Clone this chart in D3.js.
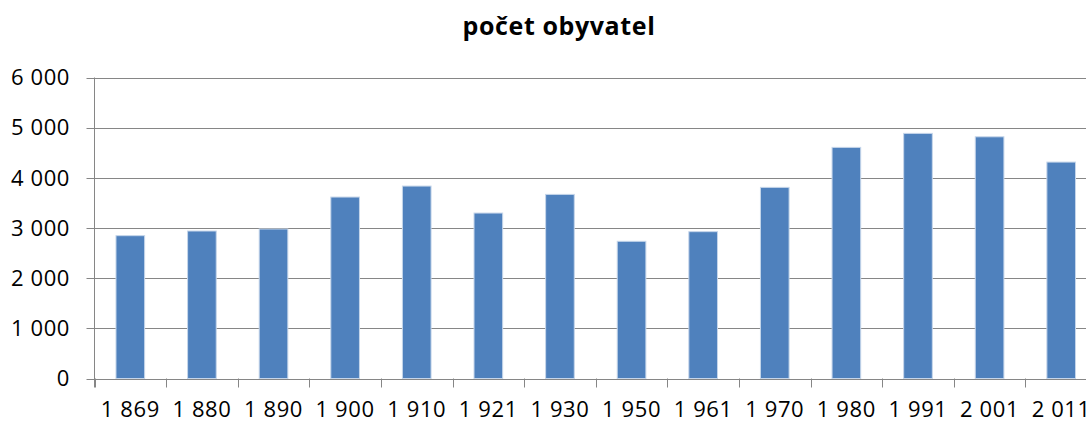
<!DOCTYPE html>
<html lang="cs">
  <head>
    <meta charset="UTF-8" />
    <title>počet obyvatel</title>
    <script src="https://d3js.org/d3.v7.min.js"></script>
    <style>
      body { margin: 0; background: #fff; }
      text { font-family: "Open Sans", sans-serif; fill: #000; }
      .grid line { stroke: #868686; stroke-width: 1px; }
      .axis line, .axis path { stroke: #868686; stroke-width: 1px; }
      .bar { fill: #4f81bd; stroke: #c6d6ea; stroke-width: 1px; }
      .title { font-weight: bold; font-size: 25px; letter-spacing: 0.6px; }
      .tick-label { font-size: 22px; letter-spacing: 0.6px; }
    </style>
  </head>
  <body>
    <svg id="chart" width="1086" height="423"></svg>
    <script>
      // data
      const years = ["1 869", "1 880", "1 890", "1 900", "1 910", "1 921", "1 930",
                     "1 950", "1 961", "1 970", "1 980", "1 991", "2 001", "2 011"];
      const population = [2847, 2940, 2980, 3617, 3836, 3298, 3670,
                          2735, 2927, 3810, 4607, 4886, 4818, 4314];
      const yTicks = [0, 1000, 2000, 3000, 4000, 5000, 6000];
      const yTickLabels = ["0", "1 000", "2 000", "3 000", "4 000", "5 000", "6 000"];

      const svg = d3.select("#chart");
      const width = +svg.attr("width");

      const plot = { left: 94.5, right: 1097, top: 77.5, bottom: 378.5 };

      const x = d3.scaleBand()
        .domain(years)
        .range([plot.left, plot.right])
        .paddingInner(0.6)
        .paddingOuter(0.3);

      const y = d3.scaleLinear()
        .domain([0, 6000])
        .range([plot.bottom, plot.top]);

      // title
      svg.append("text")
        .attr("class", "title")
        .attr("x", 559)
        .attr("y", 35)
        .attr("text-anchor", "middle")
        .text("počet obyvatel");

      // horizontal gridlines (with small tick stub left of the axis)
      svg.append("g")
        .attr("class", "grid")
        .selectAll("line")
        .data(yTicks)
        .join("line")
        .attr("x1", plot.left - 8)
        .attr("x2", width)
        .attr("y1", d => Math.round(y(d)) + 0.5)
        .attr("y2", d => Math.round(y(d)) + 0.5);

      // y axis line
      svg.append("line")
        .attr("x1", plot.left).attr("x2", plot.left)
        .attr("y1", plot.top).attr("y2", plot.bottom + 9)
        .attr("stroke", "#868686");

      // x category boundary ticks
      const step = x.step();
      const boundaries = d3.range(years.length + 1).map(i => plot.left + i * step);
      svg.append("g")
        .attr("class", "axis")
        .selectAll("line")
        .data(boundaries)
        .join("line")
        .attr("x1", d => Math.round(d) + 0.5)
        .attr("x2", d => Math.round(d) + 0.5)
        .attr("y1", plot.bottom)
        .attr("y2", plot.bottom + 9);

      // bars
      svg.append("g")
        .selectAll("rect")
        .data(population)
        .join("rect")
        .attr("class", "bar")
        .attr("x", (d, i) => x(years[i]))
        .attr("width", x.bandwidth())
        .attr("y", d => y(d))
        .attr("height", d => y(0) - y(d));

      // y tick labels
      svg.append("g")
        .selectAll("text")
        .data(yTicks)
        .join("text")
        .attr("class", "tick-label")
        .attr("x", 70)
        .attr("y", d => y(d))
        .attr("dy", "0.35em")
        .attr("text-anchor", "end")
        .text((d, i) => yTickLabels[i]);

      // x tick labels
      svg.append("g")
        .selectAll("text")
        .data(years)
        .join("text")
        .attr("class", "tick-label")
        .attr("x", d => x(d) + x.bandwidth() / 2)
        .attr("y", 417)
        .attr("text-anchor", "middle")
        .text(d => d);
    </script>
  </body>
</html>
